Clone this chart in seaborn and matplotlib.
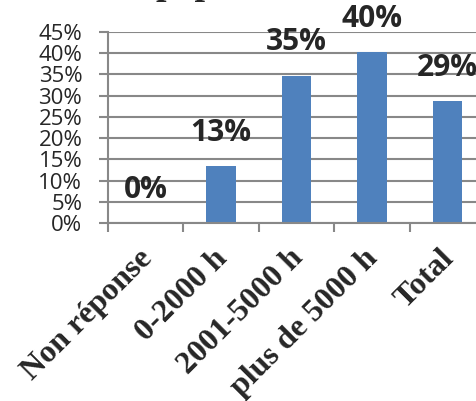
import matplotlib
matplotlib.use("Agg")
import matplotlib.pyplot as plt
import matplotlib.transforms as mtransforms
import seaborn as sns
import pandas as pd
from matplotlib.ticker import MultipleLocator, PercentFormatter, FixedLocator

# data
categories = ["Non réponse", "0-2000 h", "2001-5000 h", "plus de 5000 h", "Total"]
values = [0.0, 13.4, 34.7, 40.2, 28.6]
value_labels = ["0%", "13%", "35%", "40%", "29%"]

sns.set_style("white")
grey = "#888888"
blue = "#4F81BD"

fig = plt.figure(figsize=(4.77, 4.01), dpi=100)
ax = fig.add_axes([0.2264, 0.4439, 0.7904, 0.4768])

df = pd.DataFrame({"cat": categories, "val": values})
sns.barplot(data=df, x="cat", y="val", color=blue, saturation=1, width=0.39,
            linewidth=0, ax=ax)

ax.set_xlim(-0.5, len(categories) - 0.5)
ax.set_ylim(0, 45)
ax.set_xlabel("")
ax.set_ylabel("")

# y axis
ax.yaxis.set_major_locator(MultipleLocator(5))
ax.yaxis.set_major_formatter(PercentFormatter(decimals=0))
ax.grid(axis="y", color=grey, linewidth=1.5)
ax.set_axisbelow(True)
ax.tick_params(axis="y", length=6.5, width=1.5, color=grey, pad=12,
               labelsize=16, left=True)
for t in ax.get_yticklabels():
    t.set_family("Open Sans")

# x axis: ticks between categories
ax.xaxis.set_minor_locator(FixedLocator([i - 0.5 for i in range(len(categories))]))
ax.tick_params(axis="x", which="minor", length=6.5, width=1.5, color=grey, bottom=True)
ax.tick_params(axis="x", which="major", length=0, pad=15)
ax.set_xticks(range(len(categories)))
ax.set_xticklabels(categories, rotation=45, ha="right", rotation_mode="anchor",
                   family="Liberation Serif", fontweight="bold", fontsize=23)
shift = mtransforms.ScaledTranslation(-6 / 72, 0, fig.dpi_scale_trans)
for t in ax.get_xticklabels():
    t.set_transform(t.get_transform() + shift)

for s in ["top", "right"]:
    ax.spines[s].set_visible(False)
for s in ["left", "bottom"]:
    ax.spines[s].set_color(grey)
    ax.spines[s].set_linewidth(1.5)

# value labels above each bar
for i, (v, lab) in enumerate(zip(values, value_labels)):
    ax.annotate(lab, xy=(i, v), xytext=(0, 24), textcoords="offset points",
                ha="center", va="center", fontsize=21.5, fontweight="bold",
                family="Open Sans", annotation_clip=False)

# title, mostly cut off by the top edge in the reference
fig.text(0.325, 1.0 + 6 / 401, "population", ha="left", va="baseline",
         family="Liberation Serif", fontweight="bold", fontsize=27)

fig.savefig("out.png", dpi=100)
